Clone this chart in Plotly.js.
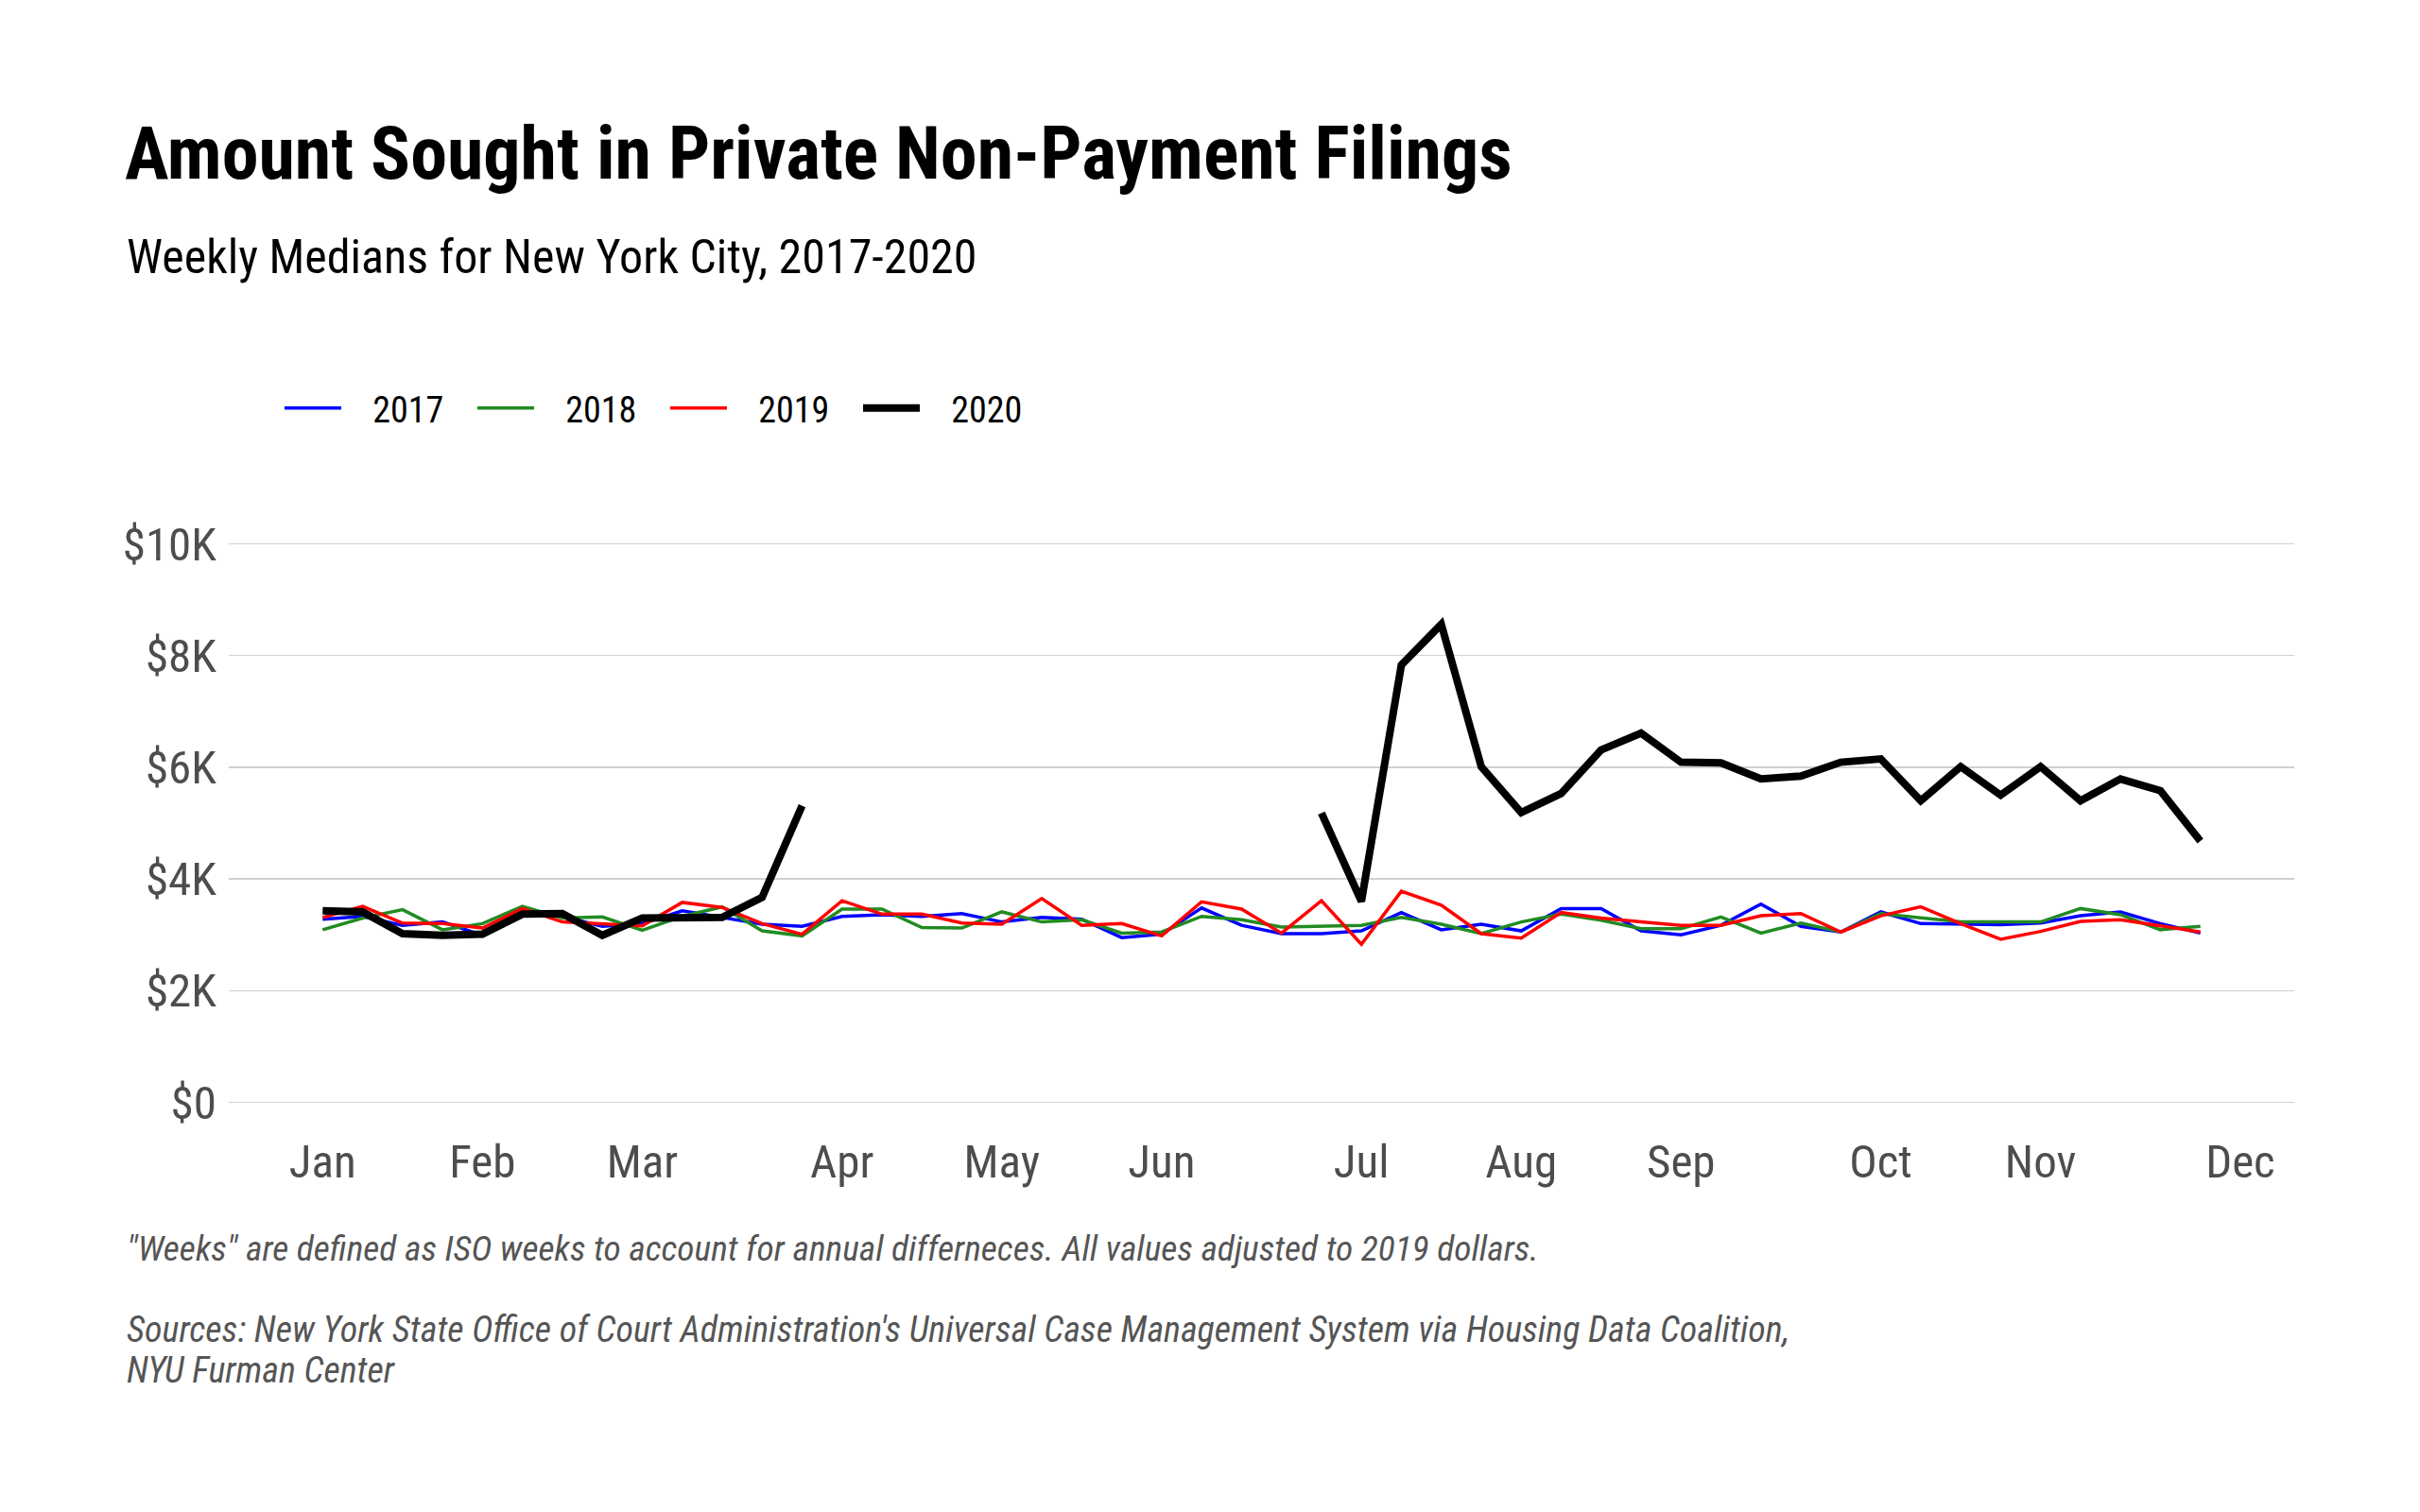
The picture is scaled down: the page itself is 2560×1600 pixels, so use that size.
<!DOCTYPE html>
<html>
<head>
<meta charset="utf-8">
<script src="https://cdn.plot.ly/plotly-3.0.1.min.js"></script>
<style>
  html, body { margin: 0; padding: 0; background: #ffffff; }
  #chart { width: 2560px; height: 1600px; }
</style>
</head>
<body>
<div id="chart"></div>
<script>
// ISO week numbers
const weeks = Array.from({length: 48}, (_, i) => i + 1);

const seriesNames = ["2017", "2018", "2019", "2020"];

const y2017 = [3280, 3330, 3170, 3230, 2990, 3380, 3330, 3150, 3200, 3430, 3310, 3190,
               3150, 3330, 3360, 3330, 3380, 3230, 3310, 3280, 2950, 3010, 3480, 3170,
               3020, 3020, 3070, 3400, 3090, 3190, 3070, 3470, 3470, 3070, 3000, 3170,
               3550, 3150, 3050, 3410, 3200, 3190, 3180, 3210, 3340, 3410, 3200, 3030];

const y2018 = [3090, 3300, 3450, 3090, 3200, 3510, 3300, 3320, 3080, 3330, 3500, 3070,
               2980, 3460, 3460, 3130, 3120, 3410, 3230, 3270, 3030, 3050, 3330, 3270,
               3140, 3160, 3170, 3310, 3190, 3020, 3230, 3370, 3260, 3110, 3110, 3320,
               3030, 3210, 3050, 3380, 3300, 3230, 3230, 3230, 3470, 3360, 3090, 3150];

const y2019 = [3310, 3510, 3210, 3200, 3120, 3470, 3230, 3200, 3160, 3580, 3490, 3200,
               3010, 3610, 3370, 3370, 3210, 3190, 3650, 3170, 3200, 2980, 3590, 3460,
               3030, 3610, 2830, 3780, 3530, 3020, 2940, 3400, 3300, 3230, 3170, 3170,
               3340, 3380, 3050, 3340, 3500, 3200, 2920, 3060, 3240, 3270, 3160, 3050];

const y2020 = [3430, 3410, 3020, 2990, 3010, 3370, 3380, 2990, 3300, 3300, 3310, 3670,
               5310, null, null, null, null, null, null, null, null, null, null, null,
               null, 5180, 3600, 7830, 8560, 6010, 5190, 5530, 6310, 6610, 6090, 6080,
               5790, 5840, 6090, 6150, 5400, 6010, 5500, 6010, 5400, 5790, 5580, 4680];

const monthTickWeeks = [1, 5, 9, 14, 18, 22, 27, 31, 35, 40, 44, 49];
const monthTickLabels = ["Jan", "Feb", "Mar", "Apr", "May", "Jun", "Jul", "Aug", "Sep", "Oct", "Nov", "Dec"];

const yTickVals = [0, 2000, 4000, 6000, 8000, 10000];
const yTickLabels = ["$0", "$2K", "$4K", "$6K", "$8K", "$10K"];

const titleText = "Amount Sought in Private Non-Payment Filings";
const subtitleText = "Weekly Medians for New York City, 2017-2020";
const captionText = "\"Weeks\" are defined as ISO weeks to account for annual differneces. All values adjusted to 2019 dollars.";
const sourcesLine1 = "Sources: New York State Office of Court Administration's Universal Case Management System via Housing Data Coalition,";
const sourcesLine2 = "NYU Furman Center";

const FONT = "'Liberation Sans Narrow', 'Arial Narrow', 'Roboto Condensed', 'DejaVu Sans Condensed', sans-serif";

const colors = ["#0000FF", "#228B22", "#FF0000", "#000000"];
const widths = [3.5, 3.5, 3.5, 8];
const allY = [y2017, y2018, y2019, y2020];

const traces = allY.map((ys, i) => ({
  type: "scatter",
  mode: "lines",
  name: "\u2002\u2009\u200A" + seriesNames[i],
  x: weeks,
  y: ys,
  connectgaps: false,
  line: { color: colors[i], width: widths[i] },
  hoverinfo: "skip"
}));

const W = 2560, H = 1600;
const layout = {
  width: W, height: H,
  paper_bgcolor: "#ffffff",
  plot_bgcolor: "#ffffff",
  margin: { l: 242, r: 133, t: 546, b: 404, pad: 0 },
  font: { family: FONT, color: "#4d4d4d" },
  title: {
    text: "<b>" + titleText + "</b>",
    font: { family: FONT, size: 78, color: "#000000" },
    xref: "container", x: 132 / W, xanchor: "left",
    yref: "container", y: 1 - 162 / H, yanchor: "middle"
  },
  showlegend: true,
  legend: {
    orientation: "h",
    xref: "container", x: 296 / W, xanchor: "left",
    yref: "container", y: 1 - 432 / H, yanchor: "middle",
    font: { family: FONT, size: 38, color: "#000000" },
    itemwidth: 60,
    entrywidth: 129,
    entrywidthmode: "pixels",
    bgcolor: "rgba(0,0,0,0)"
  },
  xaxis: {
    range: [-1.35, 50.35],
    tickmode: "array",
    tickvals: monthTickWeeks,
    ticktext: monthTickLabels,
    showgrid: false,
    zeroline: false,
    showline: false,
    ticks: "",
    tickfont: { family: FONT, size: 49, color: "#4d4d4d" },
    ticklabelstandoff: 0
  },
  yaxis: {
    range: [-500, 10500],
    tickmode: "array",
    tickvals: yTickVals,
    ticktext: yTickLabels,
    showgrid: true,
    gridcolor: "#d0d0d0",
    gridwidth: 1.5,
    zeroline: false,
    showline: false,
    ticks: "",
    tickfont: { family: FONT, size: 49, color: "#4d4d4d" },
    ticklabelstandoff: 12
  },
  annotations: [
    { text: subtitleText, xref: "paper", yref: "paper", showarrow: false,
      x: (132 - 242) / 2185, xanchor: "left",
      y: (1195.5 - 273.3) / 649, yanchor: "middle",
      font: { family: FONT, size: 50, color: "#000000" } },
    { text: "<i>" + captionText + "</i>", xref: "paper", yref: "paper", showarrow: false,
      x: (132 - 242) / 2185, xanchor: "left",
      y: (1195.5 - 1320) / 649, yanchor: "middle",
      font: { family: FONT, size: 37.5, color: "#555555" } },
    { text: "<i>" + sourcesLine1 + "</i>", xref: "paper", yref: "paper", showarrow: false,
      x: (132 - 242) / 2185, xanchor: "left",
      y: (1195.5 - 1406) / 649, yanchor: "middle",
      font: { family: FONT, size: 38, color: "#555555" } },
    { text: "<i>" + sourcesLine2 + "</i>", xref: "paper", yref: "paper", showarrow: false,
      x: (132 - 242) / 2185, xanchor: "left",
      y: (1195.5 - 1449.5) / 649, yanchor: "middle",
      font: { family: FONT, size: 38, color: "#555555" } }
  ]
};

Plotly.newPlot("chart", traces, layout, { displayModeBar: false, staticPlot: true });
</script>
</body>
</html>
